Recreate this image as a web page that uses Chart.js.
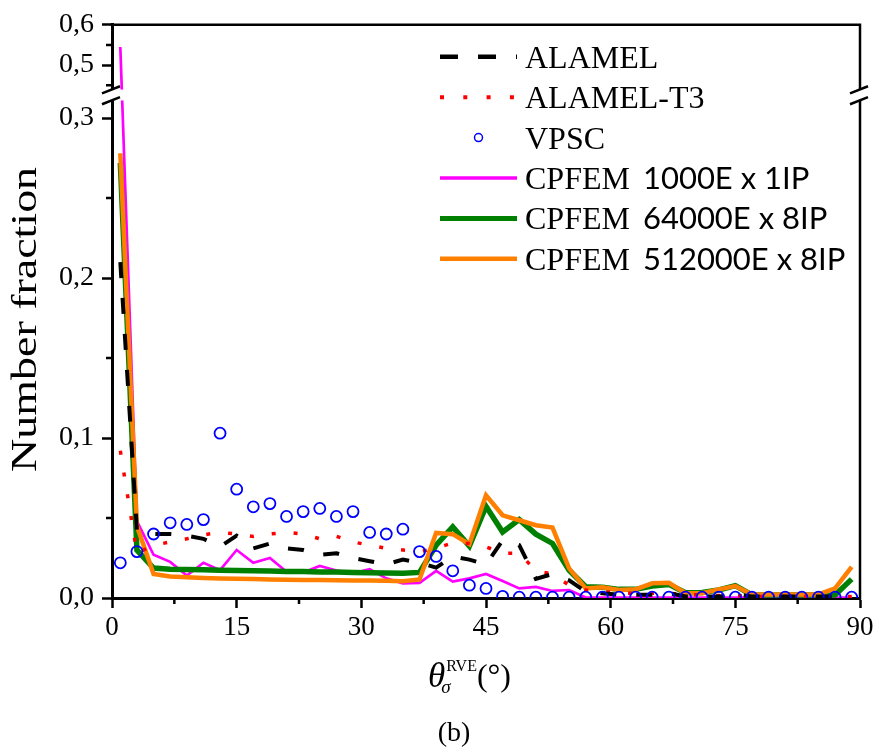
<!DOCTYPE html>
<html><head><meta charset="utf-8">
<script src="https://cdn.jsdelivr.net/npm/chart.js@4.4.1/dist/chart.umd.min.js"></script>
<style>html,body{margin:0;padding:0;background:#fff}#wrap{width:880px;height:755px;position:relative}</style>
</head><body><div id="wrap"><canvas id="c" width="880" height="755"></canvas></div>
<script>
// ---------- data ----------
const angles = [1,3,5,7,9,11,13,15,17,19,21,23,25,27,29,31,33,35,37,39,41,43,45,47,49,51,53,55,57,59,61,63,65,67,69,71,73,75,77,79,81,83,85,87,89];

const alamel = [0.210,0.042,0.040,0.040,0.039,0.037,0.032,0.039,0.031,0.034,0.031,0.030,0.027,0.028,0.025,0.023,0.021,0.024,0.022,0.019,0.026,0.024,0.021,0.036,0.033,0.012,0.015,0.011,0.004,0.003,0.002,0.002,0.002,0.003,0.001,0.001,0.001,0.002,0.001,0.001,0.001,0.001,0.001,0.001,0.001];

const alamelT3 = [0.092,0.028,0.033,0.035,0.037,0.0395,0.041,0.040,0.0385,0.040,0.041,0.040,0.037,0.0386,0.035,0.033,0.031,0.030,0.029,0.031,0.0345,0.034,0.032,0.028,0.028,0.017,0.015,0.008,0.005,0.004,0.003,0.003,0.003,0.003,0.002,0.002,0.0015,0.0015,0.001,0.001,0.001,0.001,0.001,0.001,0.001];

const vpsc = [0.022,0.029,0.040,0.047,0.046,0.049,0.103,0.068,0.057,0.059,0.051,0.054,0.056,0.051,0.054,0.041,0.040,0.043,0.029,0.026,0.017,0.008,0.006,0.001,0.0005,0.0005,0.0005,0.0005,0.0005,0.0005,0.0005,0.0005,0.0005,0.0005,0.0005,0.0005,0.0005,0.0005,0.0005,0.0005,0.0005,0.0005,0.0005,0.0005,0.0005];

const cpfem1000 = [0.545,0.048,0.027,0.0226,0.014,0.022,0.0174,0.030,0.022,0.025,0.0164,0.016,0.020,0.0172,0.0154,0.018,0.0123,0.0092,0.0094,0.017,0.0102,0.0123,0.015,0.0106,0.006,0.0069,0.0044,0.005,0.0003,0.0003,0.0003,0.0003,0.0003,0.0003,0.0003,0.0003,0.0003,0.0003,0.0003,0.0003,0.0003,0.0003,0.0003,0.0003,0.0003];

const cpfem64000 = [0.272,0.030,0.0187,0.018,0.0178,0.0176,0.0174,0.0172,0.017,0.0168,0.0166,0.0165,0.0163,0.0162,0.016,0.0158,0.0157,0.0155,0.016,0.033,0.0444,0.0324,0.0573,0.0413,0.049,0.0399,0.0341,0.0174,0.007,0.0067,0.0054,0.0054,0.0075,0.0085,0.0033,0.0035,0.005,0.0077,0.0019,0.0019,0.0019,0.0019,0.0019,0.0019,0.0118];

const cpfem512000 = [0.278,0.045,0.015,0.0135,0.013,0.0125,0.0122,0.012,0.0118,0.0116,0.0114,0.0113,0.0112,0.0111,0.011,0.011,0.0108,0.0105,0.0116,0.0407,0.0399,0.0336,0.0642,0.0517,0.0486,0.0455,0.044,0.0185,0.006,0.0067,0.005,0.0054,0.0092,0.0095,0.003,0.003,0.0054,0.0075,0.0022,0.0022,0.0022,0.0022,0.0022,0.006,0.0195];

const seriesLabels = ["ALAMEL","ALAMEL-T3","VPSC","CPFEM 1000E x 1IP","CPFEM 64000E x 8IP","CPFEM 512000E x 8IP"];
const xTicks = [0,15,30,45,60,75,90];
const xMinorTicks = [7.5,22.5,37.5,52.5,67.5,82.5];
const yTicks = [0,0.1,0.2,0.3,0.5,0.6];
const yMinorTicks = [0.05,0.15,0.25,0.45,0.55];

// ---------- broken y scale ----------
const BRK_LOW = 0.311, BRK_HIGH = 0.439;      // values where the break starts / ends
const LOW_FRAC = 0.868, HIGH_FRAC = 0.887;    // share of axis height for the break
class BrokenLinearScale extends Chart.LinearScale {
  _dec(v) {
    if (v <= BRK_LOW) return (v - this.min) / (BRK_LOW - this.min) * LOW_FRAC;
    if (v >= BRK_HIGH) return HIGH_FRAC + (v - BRK_HIGH) / (this.max - BRK_HIGH) * (1 - HIGH_FRAC);
    return LOW_FRAC + (v - BRK_LOW) / (BRK_HIGH - BRK_LOW) * (HIGH_FRAC - LOW_FRAC);
  }
  getPixelForValue(v) { return this.getPixelForDecimal(this._dec(v)); }
  getValueForPixel(p) {
    const d = this.getDecimalForPixel(p);
    if (d <= LOW_FRAC) return this.min + d / LOW_FRAC * (BRK_LOW - this.min);
    if (d >= HIGH_FRAC) return BRK_HIGH + (d - HIGH_FRAC) / (1 - HIGH_FRAC) * (this.max - BRK_HIGH);
    return BRK_LOW + (d - LOW_FRAC) / (HIGH_FRAC - LOW_FRAC) * (BRK_HIGH - BRK_LOW);
  }
}
BrokenLinearScale.id = 'brokenLinear';
BrokenLinearScale.defaults = Chart.LinearScale.defaults;
Chart.register(BrokenLinearScale);

const SERIF = "'Liberation Serif', 'Times New Roman', serif";
const SANS = "Lato, 'Open Sans', sans-serif";

function pts(vals) { return angles.map((a, i) => ({x: a, y: vals[i]})); }

const datasets = [
  {label: seriesLabels[0], data: pts(alamel), borderColor: '#000000', borderWidth: 4, borderDash: [16, 20], pointRadius: 0, order: 1, legendDash: [18, 20], legendWidth: 4.5},
  {label: seriesLabels[1], data: pts(alamelT3), borderColor: '#FF0000', borderWidth: 3.5, borderDash: [4, 18], pointRadius: 0, order: 2, legendDash: [4, 19.3], legendWidth: 4},
  {label: seriesLabels[2], data: pts(vpsc), showLine: false, borderColor: '#0000FF', backgroundColor: 'rgba(0,0,0,0)', pointRadius: 5.5, pointBorderWidth: 1.8, pointStyle: 'circle', order: 0, clip: 0},
  {label: seriesLabels[3], data: pts(cpfem1000), borderColor: '#FF00FF', borderWidth: 2.7, pointRadius: 0, order: 5, legendWidth: 3.3},
  {label: seriesLabels[4], data: pts(cpfem64000), borderColor: '#008000', borderWidth: 5.5, pointRadius: 0, order: 4, legendWidth: 5},
  {label: seriesLabels[5], data: pts(cpfem512000), borderColor: '#FF8000', borderWidth: 4.5, pointRadius: 0, order: 3, legendWidth: 4.5}
];
datasets.forEach(d => { d.tension = 0; d.fill = false; d.borderCapStyle = 'butt'; d.borderJoinStyle = 'miter'; });

// ---------- decorations ----------
const decor = {
  id: 'decor',
  afterDraw(chart) {
    const ctx = chart.ctx, ca = chart.chartArea;
    const xs = chart.scales.x, ys = chart.scales.y;
    ctx.save();
    ctx.strokeStyle = '#000'; ctx.lineWidth = 2.5; ctx.lineCap = 'butt';
    // top & right frame
    ctx.beginPath();
    ctx.moveTo(ca.left - 1.5, ca.top); ctx.lineTo(ca.right, ca.top); ctx.lineTo(ca.right, ca.bottom + 1.5);
    ctx.stroke();
    // minor ticks
    ctx.beginPath();
    yMinorTicks.forEach(v => { const y = ys.getPixelForValue(v); ctx.moveTo(ca.left - 6, y); ctx.lineTo(ca.left, y); });
    xMinorTicks.forEach(v => { const x = xs.getPixelForValue(v); ctx.moveTo(x, ca.bottom); ctx.lineTo(x, ca.bottom + 6); });
    ctx.stroke();
    // axis break
    const yTop = ys.getPixelForValue(BRK_HIGH), yBot = ys.getPixelForValue(BRK_LOW);
    ctx.fillStyle = '#fff';
    ctx.fillRect(ca.left - 3, yTop, ca.right - ca.left + 6, yBot - yTop);
    ctx.beginPath();
    [ca.left, ca.right].forEach(xa => {
      [yTop, yBot].forEach(ye => { ctx.moveTo(xa - 10, ye + 3.8); ctx.lineTo(xa + 8, ye - 3.3); });
    });
    ctx.stroke();

    // legend
    const x0 = ca.left + 328, x1 = ca.left + 405, tx = ca.left + 413;
    chart.data.datasets.forEach((ds, i) => {
      const y = ca.top + 32 + i * 40.4;
      ctx.save();
      if (ds.showLine === false) {
        ctx.strokeStyle = ds.borderColor; ctx.lineWidth = 1.5;
        ctx.beginPath(); ctx.arc((x0 + x1) / 2, y, 4, 0, Math.PI * 2); ctx.stroke();
      } else {
        ctx.strokeStyle = ds.borderColor; ctx.lineWidth = ds.legendWidth;
        ctx.setLineDash(ds.legendDash || []); ctx.lineCap = 'butt';
        ctx.beginPath(); ctx.moveTo(x0, y); ctx.lineTo(x1, y); ctx.stroke();
      }
      ctx.restore();
      ctx.fillStyle = '#000'; ctx.textBaseline = 'alphabetic'; ctx.textAlign = 'left';
      const lab = ds.label;
      if (lab.startsWith('CPFEM ')) {
        ctx.font = '32px ' + SERIF;
        ctx.fillText('CPFEM', tx, y + 11);
        const w = ctx.measureText('CPFEM').width;
        ctx.font = '31px ' + SANS;
        ctx.fillText(lab.slice(6), tx + w + 13, y + 11);
      } else {
        ctx.font = '32px ' + SERIF;
        ctx.fillText(lab, tx, y + 11);
      }
    });

    // y axis title (slightly stretched along its length as in the reference)
    ctx.save();
    ctx.font = '35px ' + SERIF;
    const yt = 'Number fraction';
    const wy = ctx.measureText(yt).width;
    ctx.translate(36, (ca.top + ca.bottom) / 2 + 8);
    ctx.rotate(-Math.PI / 2);
    ctx.scale(305 / wy, 1);
    ctx.textAlign = 'center'; ctx.textBaseline = 'alphabetic';
    ctx.fillText(yt, 0, 0);
    ctx.restore();

    // x axis title: theta_sigma^RVE (°)
    ctx.save();
    ctx.fillStyle = '#000'; ctx.textBaseline = 'alphabetic'; ctx.textAlign = 'left';
    const bx = ca.left + 316, by = ca.bottom + 89;
    ctx.font = 'italic 35px ' + SERIF;
    ctx.fillText('θ', bx, by);
    const wt = ctx.measureText('θ').width;
    ctx.font = 'italic 19px ' + SERIF;
    ctx.fillText('σ', bx + wt - 4, by + 6);
    ctx.font = '16px ' + SERIF;
    ctx.fillText('RVE', bx + wt + 1, by - 16);
    const wr = ctx.measureText('RVE').width;
    ctx.font = '32px ' + SERIF;
    ctx.fillText('(°)', bx + wt + wr + 1, by - 1);
    // panel label
    ctx.textAlign = 'center';
    ctx.font = '28px ' + SERIF;
    ctx.fillText('(b)', ca.left + 342, ca.bottom + 143);
    ctx.restore();

    ctx.restore();
  }
};

new Chart(document.getElementById('c'), {
  type: 'line',
  data: {datasets},
  plugins: [decor],
  options: {
    responsive: false,
    animation: false,
    devicePixelRatio: 1,
    events: [],
    layout: {padding: {left: 0, right: 20, top: 23, bottom: 0}},
    plugins: {legend: {display: false}, tooltip: {enabled: false}, title: {display: false}},
    scales: {
      x: {
        type: 'linear', min: 0, max: 90,
        afterBuildTicks: s => { s.ticks = xTicks.map(v => ({value: v})); },
        afterFit: s => { s.height = 157; },
        grid: {drawOnChartArea: false, drawTicks: true, tickLength: 10, tickWidth: 2.5, tickColor: '#000'},
        border: {display: true, width: 3, color: '#000'},
        ticks: {color: '#000', font: {family: SERIF, size: 27}, padding: 4, maxRotation: 0, autoSkip: false}
      },
      y: {
        type: 'brokenLinear', min: 0, max: 0.6,
        afterBuildTicks: s => { s.ticks = yTicks.map(v => ({value: v})); },
        afterFit: s => { s.width = 112; },
        grid: {drawOnChartArea: false, drawTicks: true, tickLength: 10, tickWidth: 2.5, tickColor: '#000'},
        border: {display: true, width: 3, color: '#000'},
        ticks: {color: '#000', font: {family: SERIF, size: 28}, padding: 8, autoSkip: false,
          callback: v => Number(v).toFixed(1).replace('.', ',')}
      }
    }
  }
});
</script>
</body></html>
